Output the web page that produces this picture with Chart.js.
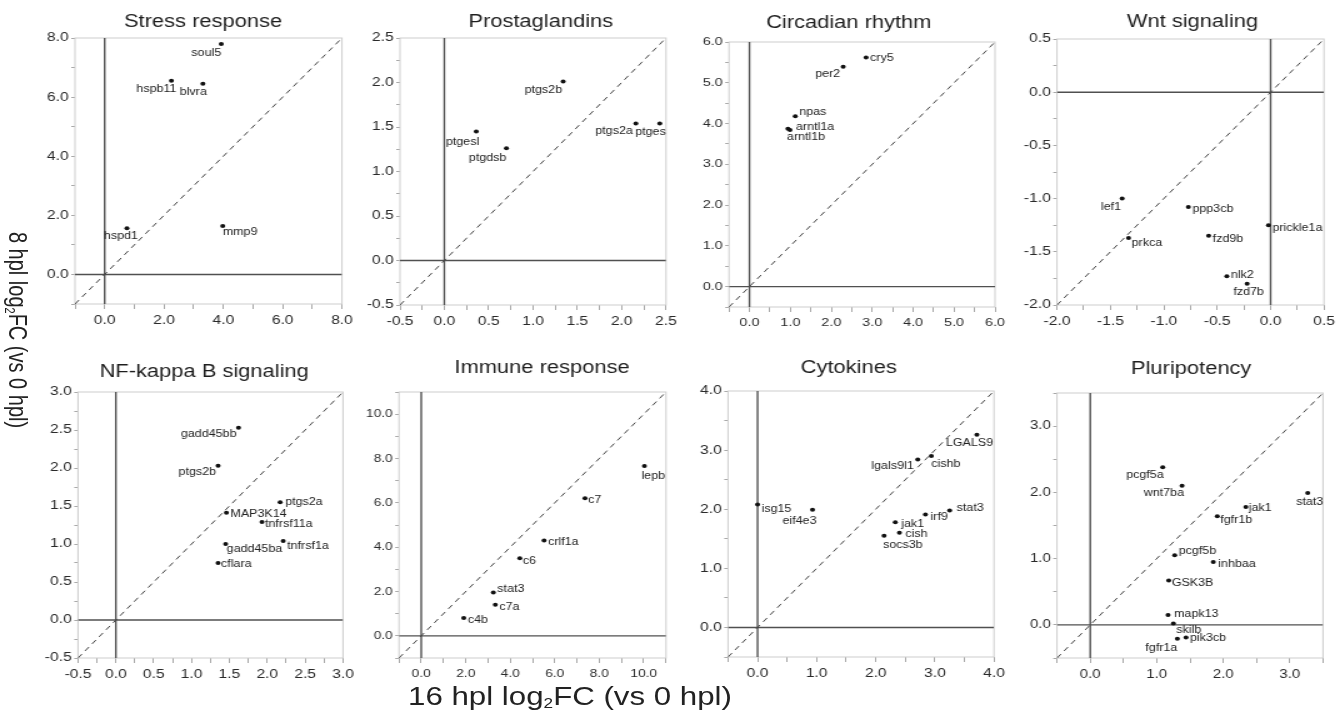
<!DOCTYPE html>
<html><head><meta charset="utf-8">
<script src="https://cdn.jsdelivr.net/npm/chart.js@4.4.1/dist/chart.umd.min.js"></script>
<style>
html,body{margin:0;padding:0;background:#fff;overflow:hidden;width:1343px;height:713px;}
#fig{position:absolute;left:0;top:0;width:1075px;height:713px;transform:scaleX(1.25);transform-origin:0 0;font-family:"Liberation Sans",Arial,Helvetica,sans-serif;color:#222;}
#fig canvas{position:absolute;}
.axt{position:absolute;white-space:nowrap;line-height:1;color:#222;}
.axt sub{font-size:55%;vertical-align:-0.25em;line-height:0;}
#xt{font-size:25px;left:456px;top:684px;transform:translateX(-50%);}
#yt{font-size:20px;left:14.4px;top:330px;transform:translate(-50%,-50%) rotate(90deg);}
</style></head><body><div id="fig">
<div class="axt" id="xt">16 hpl log<sub>2</sub>FC (vs 0 hpl)</div>
<div class="axt" id="yt">8 hpl log<sub>2</sub>FC (vs 0 hpl)</div>
</div>
<script>
// ---------- data (x = 16 hpl log2FC, y = 8 hpl log2FC) ----------
const stressTitle = 'Stress response';
const stressGenes = ['soul5','hspb11','blvra','hspd1','mmp9'];
const stress16 = [3.93, 2.25, 3.31, 0.75, 3.98];
const stress8  = [7.80, 6.55, 6.45, 1.56, 1.64];
const stressAxis = [-1, 8, 1, 2];

const prostTitle = 'Prostaglandins';
const prostGenes = ['ptgs2b','ptgesl','ptgdsb','ptgs2a','ptges'];
const prost16 = [1.34, 0.36, 0.70, 2.16, 2.43];
const prost8  = [2.01, 1.45, 1.26, 1.54, 1.54];
const prostAxis = [-0.5, 2.5, 0.25, 0.5];

const circTitle = 'Circadian rhythm';
const circGenes = ['cry5','per2','npas','arntl1a','arntl1b'];
const circ16 = [2.85, 2.29, 1.12, 0.94, 0.99];
const circ8  = [5.62, 5.39, 4.18, 3.87, 3.84];
const circAxis = [-0.5, 6, 0.5, 1];

const wntTitle = 'Wnt signaling';
const wntGenes = ['lef1','ppp3cb','prickle1a','prkca','fzd9b','nlk2','fzd7b'];
const wnt16 = [-1.39, -0.77, -0.02, -1.33, -0.58, -0.41, -0.22];
const wnt8  = [-1.00, -1.08, -1.25, -1.37, -1.35, -1.73, -1.80];
const wntAxis = [-2, 0.5, 0.25, 0.5];

const nfkbTitle = 'NF-kappa B signaling';
const nfkbGenes = ['gadd45bb','ptgs2b','ptgs2a','MAP3K14','tnfrsf11a','gadd45ba','tnfrsf1a','cflara'];
const nfkb16 = [1.62, 1.35, 2.17, 1.46, 1.93, 1.45, 2.21, 1.35];
const nfkb8  = [2.53, 2.03, 1.55, 1.41, 1.29, 1.00, 1.04, 0.75];
const nfkbAxis = [-0.5, 3, 0.25, 0.5];

const immTitle = 'Immune response';
const immGenes = ['lepb','c7','crlf1a','c6','stat3','c7a','c4b'];
const imm16 = [10.03, 7.36, 5.52, 4.43, 3.24, 3.33, 1.91];
const imm8  = [7.66, 6.21, 4.30, 3.50, 1.96, 1.40, 0.81];
const immAxis = [-1, 11, 1, 2];

const cytoTitle = 'Cytokines';
const cytoGenes = ['LGALS9','cishb','lgals9l1','isg15','eif4e3','stat3','irf9','jak1','cish','socs3b'];
const cyto16 = [3.71, 2.94, 2.71, 0.00, 0.93, 3.25, 2.84, 2.33, 2.40, 2.14];
const cyto8  = [3.26, 2.90, 2.84, 2.08, 1.99, 1.98, 1.91, 1.78, 1.60, 1.55];
const cytoAxis = [-0.5, 4, 0.5, 1];

const pluriTitle = 'Pluripotency';
const pluriGenes = ['pcgf5a','wnt7ba','stat3','jak1','fgfr1b','pcgf5b','inhbaa','GSK3B','mapk13','skilb','pik3cb','fgfr1a'];
const pluri16 = [1.09, 1.38, 3.27, 2.34, 1.91, 1.27, 1.85, 1.18, 1.17, 1.25, 1.44, 1.31];
const pluri8  = [2.38, 2.10, 1.99, 1.78, 1.64, 1.05, 0.95, 0.67, 0.15, 0.02, -0.19, -0.21];
const pluriAxis = [-0.5, 3.5, 0.5, 1];

// ---------- label placement (offsets from point, px) ----------
const stressPlace = [[0,9,'r'],[5,8,'r'],[4,8,'r'],[11,8,'r'],[0,6,'l']];
const prostPlace = [[-1,9,'r'],[3,11,'r'],[0,10,'r'],[-3,8,'r'],[6,9,'r']];
const circPlace = [[4,1,'l'],[-3,7,'r'],[4,-4,'l'],[8,-2,'l'],[-3,7,'l']];
const wntPlace = [[-1,9,'r'],[4,2,'l'],[4,3,'l'],[3,5,'l'],[4,3,'l'],[4,-1,'l'],[1.5,9,'c']];
const nfkbPlace = [[-2,7,'r'],[-2,7,'r'],[5,0,'l'],[4,1,'l'],[3,2,'l'],[1,5,'l'],[4,5,'l'],[3,1,'l']];
const immPlace = [[-3,10,'l'],[3,2,'l'],[4,2,'l'],[3,3,'l'],[4,-3,'l'],[4,2,'l'],[4,2,'l']];
const cytoPlace = [[-31,9,'l'],[0,8,'l'],[-4,7,'r'],[4,5,'l'],[4,11,'r'],[7,-2,'l'],[5,3,'l'],[6,2,'l'],[6,1,'l'],[-1,9,'l']];
const pluriPlace = [[1,8,'r'],[2,7,'r'],[2,9,'c'],[3,1,'l'],[3,4,'l'],[4,-4,'l'],[5,2,'l'],[3,3,'l'],[6,-1,'l'],[3,7,'l'],[4,1,'l'],[0,9,'r']];

// ---------- layout (page px) ----------
const S = 1.25;
const FONT = '"Liberation Sans", Arial, Helvetica, sans-serif';
const panels = [
  {title: stressTitle, genes: stressGenes, xs: stress16, ys: stress8, axis: stressAxis, place: stressPlace, frame: [75,38,342,304], tpos: [203,27.3], tick: 12.5},
  {title: prostTitle, genes: prostGenes, xs: prost16, ys: prost8, axis: prostAxis, place: prostPlace, frame: [400,38,666,305], tpos: [540.8,26.7], tick: 12.5},
  {title: circTitle, genes: circGenes, xs: circ16, ys: circ8, axis: circAxis, place: circPlace, frame: [729,42,995,307], tpos: [848.8,28], tick: 11.5},
  {title: wntTitle, genes: wntGenes, xs: wnt16, ys: wnt8, axis: wntAxis, place: wntPlace, frame: [1057,39,1324,305], tpos: [1192.5,27.3], tick: 12.5},
  {title: nfkbTitle, genes: nfkbGenes, xs: nfkb16, ys: nfkb8, axis: nfkbAxis, place: nfkbPlace, frame: [78,392,343,658], tpos: [204.2,376.5], tick: 12.5},
  {title: immTitle, genes: immGenes, xs: imm16, ys: imm8, axis: immAxis, place: immPlace, frame: [399,392,666,658], tpos: [542,372.7], tick: 11},
  {title: cytoTitle, genes: cytoGenes, xs: cyto16, ys: cyto8, axis: cytoAxis, place: cytoPlace, frame: [728,391,994,657], tpos: [848.8,373.3], tick: 12.5},
  {title: pluriTitle, genes: pluriGenes, xs: pluri16, ys: pluri8, axis: pluriAxis, place: pluriPlace, frame: [1057,393,1323,658], tpos: [1191.2,374.3], tick: 12}
];

function tickList(a) {
  const [mn, mx, st] = a;
  const n = Math.round((mx - mn) / st);
  const out = [];
  for (let i = 0; i <= n; i++) out.push({value: +(mn + i * st).toFixed(6)});
  return out;
}
function isMajor(v, step) {
  const r = v / step;
  return Math.abs(r - Math.round(r)) < 1e-6;
}

function makeDeco(p, cl, ct) {
  return {
    id: 'deco',
    beforeDatasetsDraw(chart) {
      const a = chart.chartArea, ctx = chart.ctx;
      ctx.save();
      ctx.strokeStyle = '#cdcdcd';
      ctx.lineWidth = 1;
      ctx.strokeRect(a.left, a.top, a.right - a.left, a.bottom - a.top);
      ctx.restore();
    },
    afterDatasetsDraw(chart) {
      const ctx = chart.ctx;
      ctx.save();
      ctx.fillStyle = '#1e1e1e';
      ctx.font = '17.5px ' + FONT;
      ctx.textAlign = 'center';
      ctx.textBaseline = 'alphabetic';
      ctx.fillText(p.title, p.tpos[0] / S - cl, p.tpos[1] - ct);
      ctx.font = '10px ' + FONT;
      ctx.textBaseline = 'middle';
      ctx.fillStyle = '#222';
      const meta = chart.getDatasetMeta(0);
      meta.data.forEach((el, i) => {
        const pl = p.place[i];
        ctx.textAlign = pl[2] === 'l' ? 'left' : (pl[2] === 'r' ? 'right' : 'center');
        ctx.fillText(p.genes[i], el.x + pl[0] / S, el.y + pl[1]);
      });
      ctx.restore();
    }
  };
}

const fig = document.getElementById('fig');
panels.forEach((p) => {
  const [L, T, R, B] = p.frame;
  const cl = Math.floor(L / S - 40);
  const ct = Math.floor(T - 46);
  const yw = L / S - cl;
  const pt = T - ct;
  const plotW = (R - L) / S, plotH = B - T;
  const w = Math.ceil(yw + plotW + 14);
  const h = Math.ceil(pt + plotH + 32);
  const pr = w - yw - plotW;
  const xh = h - pt - plotH;
  const cv = document.createElement('canvas');
  cv.width = w; cv.height = h;
  cv.style.left = cl + 'px'; cv.style.top = ct + 'px';
  fig.appendChild(cv);

  const [mn, mx, , lstep] = p.axis;
  const pts = p.xs.map((x, i) => ({x: x, y: p.ys[i]}));
  const lineDs = (data, dash) => ({
    data: data, showLine: true, pointRadius: 0, borderColor: dash ? '#444' : '#505050',
    borderWidth: dash ? 1 : 1.4, borderDash: dash ? [5, 4] : [], fill: false, tension: 0
  });
  const scaleOpt = (isX, fitVal) => ({
    type: 'linear', position: isX ? 'bottom' : 'left', min: mn, max: mx,
    afterBuildTicks: (s) => { s.ticks = tickList(p.axis); },
    afterFit: (s) => { if (isX) s.height = fitVal; else s.width = fitVal; },
    grid: {drawOnChartArea: false, drawTicks: true, tickLength: isX ? 5 : 3, color: '#a8a8a8', lineWidth: 1},
    border: {display: false},
    ticks: {
      autoSkip: false, maxRotation: 0, minRotation: 0, padding: isX ? 4 : 2,
      color: '#2a2a2a', font: {family: FONT, size: p.tick},
      callback: (v) => isMajor(v, lstep) ? Number(v).toFixed(1) : ''
    }
  });
  new Chart(cv, {
    type: 'scatter',
    data: {datasets: [
      {data: pts, pointRadius: 2, pointHoverRadius: 2, backgroundColor: '#111', borderWidth: 0, showLine: false},
      lineDs([{x: mn, y: mn}, {x: mx, y: mx}], true),
      lineDs([{x: mn, y: 0}, {x: mx, y: 0}], false),
      lineDs([{x: 0, y: mn}, {x: 0, y: mx}], false)
    ]},
    options: {
      responsive: false, animation: false, devicePixelRatio: 1, events: [],
      layout: {padding: {top: pt, right: pr, left: 0, bottom: 0}},
      plugins: {legend: {display: false}, tooltip: {enabled: false}, title: {display: false}},
      scales: {x: scaleOpt(true, xh), y: scaleOpt(false, yw)}
    },
    plugins: [makeDeco(p, cl, ct)]
  });
});
</script>
</body></html>
